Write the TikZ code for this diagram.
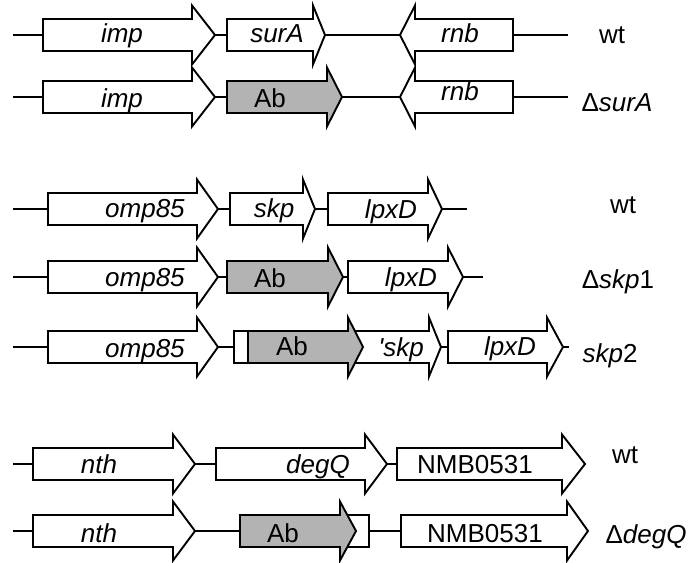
\documentclass[tikz,border=0pt]{standalone}
\usepackage{fontspec}
\setmainfont{Liberation Sans}
\definecolor{abgray}{RGB}{179,179,179}
\tikzset{
  genebox/.style={draw=black, line width=1.9pt, line join=miter},
  link/.style={draw=black, line width=1.9pt},
  lab/.style={font=\fontsize{26}{31}\selectfont, inner sep=0pt, anchor=base},
}
% right-pointing gene: name, left, head base, tip, y, fill, text x, text baseline, text
\newcommand\geneR[9]{%
  \coordinate (#1-l) at (#2,#5);
  \coordinate (#1-t) at (#4,#5);
  \path[genebox, fill=#6] (#2,#5-16) -- (#3,#5-16) -- (#3,#5-29.5) -- (#4,#5)
     -- (#3,#5+29.5) -- (#3,#5+16) -- (#2,#5+16) -- cycle;
  \node[lab] (#1-txt) at (#7,#8) {#9};
}
% left-pointing gene: name, tip, head base, right, y, fill, text x, text baseline, text
\newcommand\geneL[9]{%
  \coordinate (#1-t) at (#2,#5);
  \coordinate (#1-r) at (#4,#5);
  \path[genebox, fill=#6] (#4,#5-16) -- (#3,#5-16) -- (#3,#5-29.5) -- (#2,#5)
     -- (#3,#5+29.5) -- (#3,#5+16) -- (#4,#5+16) -- cycle;
  \node[lab] (#1-txt) at (#7,#8) {#9};
}
\begin{document}
\begin{tikzpicture}[x=1pt,y=-1pt]
\useasboundingbox (0,0) rectangle (690,562);
% ---------- row 1 : surA wt ----------
\coordinate (a1s) at (13,35);
\coordinate (a1e) at (568,35);
\geneR{impA}{43}{192}{215}{35}{white}{122}{42}{\textit{imp}}
\geneR{surA}{227}{313}{325}{35}{white}{277}{42}{\textit{surA}}
\geneL{rnbA}{400}{415}{513}{35}{white}{460}{42}{\textit{rnb}}
\draw[link] (a1s) -- (impA-l);
\draw[link] (impA-t) -- (surA-l);
\draw[link] (surA-t) -- (rnbA-t);
\draw[link] (rnbA-r) -- (a1e);
\node[lab] (wtA) at (612,43) {wt};
% ---------- row 2 : delta surA ----------
\coordinate (a2s) at (13,97);
\coordinate (a2e) at (568,97);
\geneR{impB}{43}{192}{215}{97}{white}{122}{107}{\textit{imp}}
\geneR{abB}{227}{327}{342}{97}{abgray}{270}{107}{Ab}
\geneL{rnbB}{400}{415}{513}{97}{white}{460}{100}{\textit{rnb}}
\draw[link] (a2s) -- (impB-l);
\draw[link] (impB-t) -- (abB-l);
\draw[link] (abB-t) -- (rnbB-t);
\draw[link] (rnbB-r) -- (a2e);
\node[lab] (dsurA) at (617,111) {Δ\textit{surA}};
% ---------- row 3 : skp wt ----------
\coordinate (b1s) at (13,209);
\coordinate (b1e) at (467,209);
\geneR{ompC}{48}{197}{218}{209}{white}{145}{217}{\textit{omp85}}
\geneR{skpC}{230}{303}{315}{209}{white}{274}{217}{\textit{skp}}
\geneR{lpxC}{328}{428}{442}{209}{white}{391}{218}{\textit{lpxD}}
\draw[link] (b1s) -- (ompC-l);
\draw[link] (ompC-t) -- (skpC-l);
\draw[link] (skpC-t) -- (lpxC-l);
\draw[link] (lpxC-t) -- (b1e);
\node[lab] (wtC) at (623,213) {wt};
% ---------- row 4 : delta skp1 ----------
\coordinate (b2s) at (13,277);
\coordinate (b2e) at (483,277);
\geneR{ompD}{48}{197}{218}{277}{white}{145}{286}{\textit{omp85}}
\geneR{abD}{227}{328}{343}{277}{abgray}{270}{287}{Ab}
\geneR{lpxD}{348}{448}{463}{277}{white}{411}{286}{\textit{lpxD}}
\draw[link] (b2s) -- (ompD-l);
\draw[link] (ompD-t) -- (abD-l);
\draw[link] (abD-t) -- (lpxD-l);
\draw[link] (lpxD-t) -- (b2e);
\node[lab] (dskp1) at (618,288) {Δ\textit{skp}1};
% ---------- row 5 : skp2 ----------
\coordinate (b3s) at (13,347);
\coordinate (b3e) at (569,347);
\geneR{ompE}{48}{197}{218}{347}{white}{145}{357}{\textit{omp85}}
\geneR{skpE}{234}{429}{441}{347}{white}{401}{356}{\textit{\textquotesingle skp}}
\geneR{abE}{248}{348}{363}{347}{abgray}{292}{355}{Ab}
\geneR{lpxE}{448}{547}{563}{347}{white}{510}{355}{\textit{lpxD}}
\draw[link] (b3s) -- (ompE-l);
\draw[link] (ompE-t) -- (skpE-l);
\draw[link] (skpE-t) -- (lpxE-l);
\draw[link] (lpxE-t) -- (b3e);
\node[lab] (skp2) at (610,362) {\textit{skp}2};
% ---------- row 6 : degQ wt ----------
\coordinate (c1s) at (13,464);
\geneR{nthF}{33}{173}{195}{464}{white}{99}{473}{\textit{nth}}
\geneR{degF}{216}{365}{387}{464}{white}{318}{473}{\textit{degQ}}
\geneR{nmbF}{397}{562}{585}{464}{white}{475}{473}{NMB0531}
\draw[link] (c1s) -- (nthF-l);
\draw[link] (nthF-t) -- (degF-l);
\draw[link] (degF-t) -- (nmbF-l);
\node[lab] (wtF) at (625,463) {wt};
% ---------- row 7 : delta degQ ----------
\coordinate (c2s) at (13,531);
\coordinate (boxG-r) at (369,531);
\path[genebox, fill=white] (240,515) rectangle (369,547);
\geneR{nthG}{33}{173}{195}{531}{white}{99}{542}{\textit{nth}}
\geneR{abG}{240}{340}{356}{531}{abgray}{283}{542}{Ab}
\geneR{nmbG}{401}{567}{588}{531}{white}{485}{542}{NMB0531}
\draw[link] (c2s) -- (nthG-l);
\draw[link] (nthG-t) -- (abG-l);
\draw[link] (boxG-r) -- (nmbG-l);
\node[lab] (ddegQ) at (646,543) {Δ\textit{degQ}};
\end{tikzpicture}
\end{document}
